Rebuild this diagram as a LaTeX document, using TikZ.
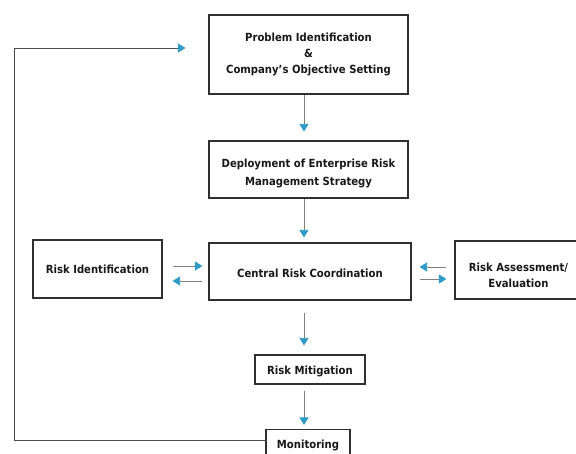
\documentclass[tikz,border=0pt]{standalone}
\usepackage{fontspec}
\setmainfont{DejaVu Sans Condensed}[BoldFont={DejaVu Sans Condensed Bold}]
\usetikzlibrary{arrows.meta,calc}
\definecolor{arrblue}{HTML}{2E9BC6}
\definecolor{linegray}{HTML}{808080}
\definecolor{boxline}{HTML}{303030}
\tikzset{
  box/.style={draw=boxline,line width=1.1pt,fill=white,align=center,inner sep=2pt,text=black!90,font=\bfseries\fontsize{11.2}{16}\selectfont},
  arr/.style={draw=linegray,line width=0.8pt,-{Triangle[width=9pt,length=7.5pt,color=arrblue]}},
  fbline/.style={draw=black!70,line width=0.8pt,-{Triangle[width=9pt,length=7.5pt,color=arrblue]}}
}
\begin{document}
\begin{tikzpicture}[x=1pt,y=-1pt]
\useasboundingbox[fill=white] (0,0) rectangle (576,454);
\clip (0,0) rectangle (576,454);
\node[box,minimum width=199pt,minimum height=79pt] (b1) at (308.5,54.5) {Problem Identification\\\&\\Company’s Objective Setting};
\node[box,minimum width=199pt,minimum height=57pt,font=\bfseries\fontsize{11.2}{18}\selectfont] (b2) at (308.5,169.5) {\rule{0pt}{17pt}Deployment of Enterprise Risk\\Management Strategy};
\node[box,minimum width=202pt,minimum height=57pt] (cr) at (310,271.5) {\raisebox{-2pt}[\height][\depth]{Central Risk Coordination}};
\node[box,minimum width=129pt,minimum height=58pt] (ri) at (97.5,269) {Risk Identification};
\node[box,minimum width=127pt,minimum height=58pt] (ra) at (518.5,270) {\rule{0pt}{19pt}Risk Assessment/\\Evaluation};
\node[box,minimum width=110pt,minimum height=29pt] (rm) at (310,369.5) {\raisebox{-2pt}[\height][\depth]{Risk Mitigation}};
\node[box,minimum width=84pt,minimum height=32pt,anchor=north] (mon) at (308,429) {Monitoring};
% vertical flow
\draw[arr,shorten >=9pt] (b1.south -| 304,0) -- (b2.north -| 304,0);
\draw[arr,shorten >=5pt] (b2.south -| 304,0) -- (cr.north -| 304,0);
\draw[arr,shorten <=12pt,shorten >=9pt] (cr.south -| 304,0) -- (rm.north -| 304,0);
\draw[arr,shorten <=6pt,shorten >=4pt] (rm.south -| 304,0) -- (mon.north -| 304,0);
% side arrows
\draw[arr,shorten <=10pt,shorten >=6pt] (ri.east |- 0,266) -- (cr.west |- 0,266);
\draw[arr,shorten <=6pt,shorten >=10pt] (cr.west |- 0,281) -- (ri.east |- 0,281);
\draw[arr,shorten <=8pt,shorten >=8pt] (ra.west |- 0,267) -- (cr.east |- 0,267);
\draw[arr,shorten <=8pt,shorten >=8pt] (cr.east |- 0,279) -- (ra.west |- 0,279);
% feedback loop
\coordinate (fb) at (14,48);
\draw[fbline,shorten >=23pt] (mon.west |- 0,440) -| (fb) -- (b1.west |- fb);
\end{tikzpicture}
\end{document}
